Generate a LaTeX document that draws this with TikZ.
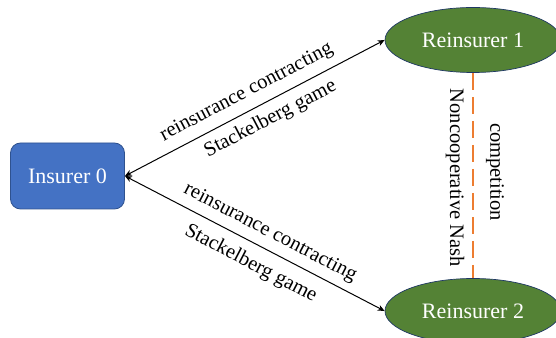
\documentclass[tikz,border=0pt]{standalone}
\usepackage{fontspec}
\setmainfont{Liberation Serif}
\usetikzlibrary{arrows.meta,shapes.geometric}
\definecolor{insblue}{HTML}{4472C4}
\definecolor{insborder}{HTML}{2F528F}
\definecolor{regreen}{HTML}{548235}
\definecolor{reborder}{HTML}{1F3864}
\definecolor{orangeline}{HTML}{ED7D31}
\tikzset{
  insbox/.style={draw=insborder, fill=insblue, rounded corners=10pt, minimum width=114pt, minimum height=66pt, inner sep=0pt, text=white, font=\fontsize{22}{24}\selectfont, line width=0.8pt},
  rebox/.style={ellipse, draw=reborder, fill=regreen, minimum width=176pt, minimum height=65pt, inner sep=0pt, text=white, font=\fontsize{22}{24}\selectfont, line width=0.7pt},
  link/.style={{Stealth[length=7pt,width=6pt]}-{Stealth[length=7pt,width=6pt]}, line width=1pt, black},
  elabel/.style={sloped, inner sep=0pt, anchor=center, font=\fontsize{20.5}{22}\selectfont},
  vlabel/.style={rotate=-90, inner sep=0pt, anchor=center, font=\fontsize{20.5}{22}\selectfont}
}
\begin{document}
\begin{tikzpicture}[x=1pt,y=1pt]
\useasboundingbox (0,0) rectangle (556,337);
\node[insbox] (ins) at (67.5,161) {Insurer 0};
\node[rebox] (r1) at (473,297) {Reinsurer 1};
\node[rebox] (r2) at (473,26) {Reinsurer 2};
\draw[orangeline, line width=2pt, dash pattern=on 17pt off 7pt] (r1.south) -- (r2.north);
\draw[link] (ins.east) -- (r1.west)
  node[elabel, pos=0.5, yshift=17.5pt] (l1) {reinsurance contracting}
  node[elabel, pos=0.53, yshift=-17pt] (l2) {Stackelberg game};
\draw[link] (ins.east) -- (r2.west)
  node[elabel, pos=0.53, yshift=16.5pt] (l3) {reinsurance contracting}
  node[elabel, pos=0.52, yshift=-20pt] (l4) {Stackelberg game};
\node[vlabel] (nash) at (455,159) {Noncooperative Nash};
\node[vlabel] (comp) at (495,165) {competition};
\end{tikzpicture}
\end{document}
